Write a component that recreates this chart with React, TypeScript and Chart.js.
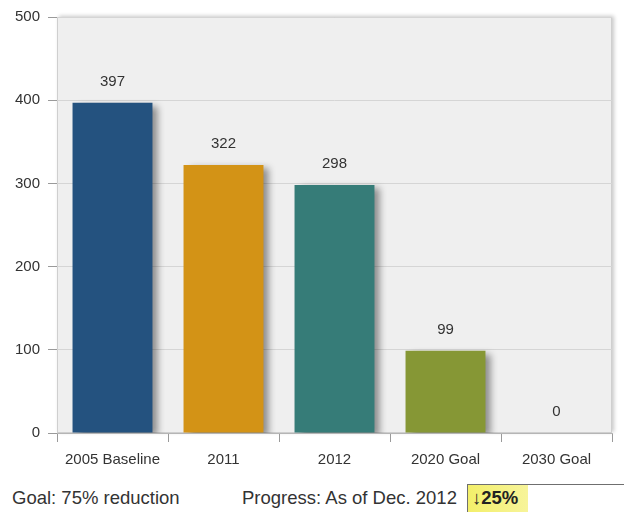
import React, { useEffect, useRef } from "react";
import { Chart, registerables } from "chart.js";

Chart.register(...registerables);

const categories = ["2005 Baseline", "2011", "2012", "2020 Goal", "2030 Goal"];
const values = [397, 322, 298, 99, 0];
const barColors = ["#24527f", "#d39316", "#367c78", "#869735", "#6a4c8c"];
const yTicks = [0, 100, 200, 300, 400, 500];
const goalText = "Goal: 75% reduction";
const progressText = "Progress: As of Dec. 2012";
const progressValue = "↓25%";

const FONT = "'Liberation Sans', Arial, Helvetica, sans-serif";

const plotBg = {
  id: "plotBg",
  beforeDraw(chart: any) {
    const { ctx, chartArea: a } = chart;
    ctx.save();
    ctx.shadowColor = "rgba(0,0,0,0.22)";
    ctx.shadowBlur = 4;
    ctx.shadowOffsetX = 2;
    ctx.shadowOffsetY = -1;
    ctx.fillStyle = "#efefef";
    ctx.fillRect(a.left, a.top, a.right - a.left, a.bottom - a.top);
    ctx.restore();
    ctx.save();
    ctx.strokeStyle = "#cfcfcf";
    ctx.lineWidth = 1;
    ctx.strokeRect(a.left + 0.5, a.top + 0.5, a.right - a.left - 1, a.bottom - a.top - 1);
    ctx.restore();
  },
};

const barShadow = {
  id: "barShadow",
  beforeDatasetsDraw(chart: any) {
    const ctx = chart.ctx;
    ctx.save();
    ctx.shadowColor = "rgba(0,0,0,0.42)";
    ctx.shadowBlur = 7;
    ctx.shadowOffsetX = 6;
    ctx.shadowOffsetY = 3;
  },
  afterDatasetsDraw(chart: any) {
    const ctx = chart.ctx;
    ctx.restore();
    const meta = chart.getDatasetMeta(0);
    ctx.save();
    ctx.font = `15px ${FONT}`;
    ctx.fillStyle = "#333";
    ctx.textAlign = "center";
    ctx.textBaseline = "middle";
    meta.data.forEach((bar: any, i: number) => {
      ctx.fillText(String(values[i]), bar.x, bar.y - 21);
    });
    ctx.restore();
  },
};

export default function App() {
  const ref = useRef<HTMLCanvasElement>(null);

  useEffect(() => {
    if (!ref.current) return;
    const chart = new Chart(ref.current, {
      type: "bar",
      data: {
        labels: categories,
        datasets: [
          {
            data: values,
            backgroundColor: barColors,
            borderWidth: 0,
            categoryPercentage: 1,
            barPercentage: 0.72,
          },
        ],
      },
      options: {
        animation: false,
        responsive: false,
        maintainAspectRatio: false,
        layout: { padding: { top: 16, right: 12, left: 0, bottom: 0 } },
        plugins: {
          legend: { display: false },
          tooltip: { enabled: false },
        },
        scales: {
          x: {
            offset: true,
            grid: {
              drawOnChartArea: false,
              drawTicks: true,
              tickLength: 9,
              tickColor: "#9a9a9a",
              offset: true,
            },
            border: { display: true, color: "#b5b5b5" },
            ticks: {
              font: { family: FONT, size: 15 },
              color: "#333",
              padding: 9,
              maxRotation: 0,
              autoSkip: false,
            },
            afterFit(scale: any) {
              scale.height = 476 - 433;
            },
          },
          y: {
            min: 0,
            max: 500,
            afterBuildTicks(scale: any) {
              scale.ticks = yTicks.map((v) => ({ value: v }));
            },
            grid: {
              color: "#d5d5d5",
              tickColor: "#9a9a9a",
              tickLength: 9,
            },
            border: { display: false },
            ticks: {
              font: { family: FONT, size: 15 },
              color: "#333",
              padding: 8,
            },
            afterFit(scale: any) {
              scale.width = 57;
            },
          },
        },
      },
      plugins: [plotBg, barShadow],
    });
    return () => chart.destroy();
  }, []);

  return (
    <div
      style={{
        position: "fixed",
        left: 0,
        top: 0,
        width: 624,
        height: 512,
        background: "#fff",
        overflow: "hidden",
        fontFamily: FONT,
        color: "#333",
      }}
    >
      <canvas ref={ref} width={624} height={476} style={{ display: "block", width: 624, height: 476 }} />
      <div style={{ position: "absolute", left: 12, top: 489, fontSize: 18.5, lineHeight: 1, whiteSpace: "nowrap" }}>
        {goalText}
      </div>
      <div style={{ position: "absolute", left: 242, top: 489, fontSize: 18.5, lineHeight: 1, whiteSpace: "nowrap" }}>
        {progressText}
      </div>
      <div
        style={{
          position: "absolute",
          left: 467,
          top: 484,
          width: 200,
          height: 40,
          border: "1px solid #6f6f6f",
          boxSizing: "border-box",
          background: "#fff",
        }}
      >
        <div
          style={{
            position: "absolute",
            left: 0,
            top: 0,
            width: 60,
            height: 40,
            background: "linear-gradient(to right, #f3ef6a, #f7f49a)",
          }}
        />
        <div
          style={{
            position: "absolute",
            left: 4,
            top: 4,
            fontSize: 18.5,
            lineHeight: 1,
            fontWeight: "bold",
            color: "#222",
            whiteSpace: "nowrap",
          }}
        >
          {progressValue}
        </div>
      </div>
    </div>
  );
}
